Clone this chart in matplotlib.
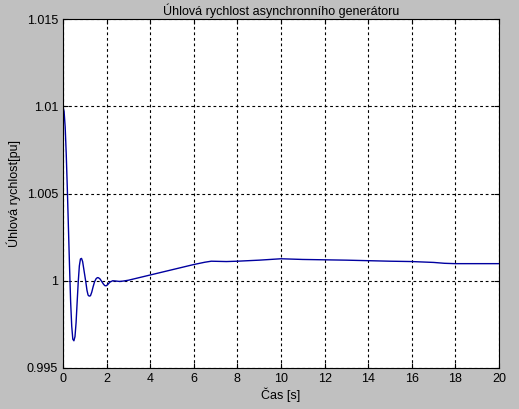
import matplotlib
matplotlib.use("Agg")
import matplotlib.pyplot as plt

plt.rcParams['font.family'] = ['Liberation Sans', 'DejaVu Sans']

# values
cas = [0, 0.05, 0.1, 0.15, 0.2, 0.25, 0.3, 0.35, 0.4, 0.45, 0.5, 0.55, 0.6, 0.65, 0.7,
       0.75, 0.8, 0.85, 0.9, 0.95, 1.0, 1.05, 1.1, 1.15, 1.2, 1.26, 1.32, 1.38, 1.45,
       1.52, 1.58, 1.63, 1.7, 1.78, 1.86, 1.92, 1.98, 2.05, 2.15, 2.28, 2.45, 2.6,
       2.75, 3.0, 4.0, 5.0, 6.0, 6.5, 6.8, 7.5, 8.0, 9.0, 10.0, 11.0, 12.0, 13.0,
       14.0, 15.0, 16.0, 17.0, 17.5, 18.0, 19.0, 20.0]
rychlost = [1.0100, 1.0097, 1.0088, 1.0072, 1.0052, 1.0030, 1.0008, 0.9988, 0.9974,
            0.99665, 0.99656, 0.9968, 0.9976, 0.9988, 0.99995, 1.00085, 1.00125,
            1.00128, 1.0011, 1.0007, 1.0003, 0.9999, 0.99945, 0.99918, 0.99912,
            0.99914, 0.99935, 0.99965, 0.99995, 1.00012, 1.00018, 1.00017, 1.0001,
            0.99995, 0.9998, 0.99972, 0.99971, 0.99978, 0.99992, 1.0000, 0.99998,
            0.99996, 0.99998, 1.00003, 1.00033, 1.00063, 1.00093, 1.00106, 1.00112,
            1.00110, 1.00112, 1.00118, 1.00126, 1.00122, 1.00120, 1.00118, 1.00115,
            1.00112, 1.00110, 1.00105, 1.00100, 1.00098, 1.00098, 1.00098]

fig = plt.figure(figsize=(5.19, 4.09), dpi=100, facecolor="#c0c0c0")
ax = fig.add_axes([63 / 519, 41 / 409, 436 / 519, 349 / 409])
ax.plot(cas, rychlost, color="#0000a0", lw=1)
ax.set_xlim(0, 20)
ax.set_ylim(0.995, 1.015)
ax.set_xticks(range(0, 21, 2))
ax.set_yticks([0.995, 1.0, 1.005, 1.01, 1.015])
ax.set_yticklabels(["0.995", "1", "1.005", "1.01", "1.015"])
ax.grid(True, color="black", linestyle=(0, (2.5, 2.5)), lw=0.8)
ax.tick_params(labelsize=9, direction="in", top=True, right=True)
ax.set_title("Úhlová rychlost asynchronního generátoru", fontsize=9, pad=3)
ax.set_xlabel("Čas [s]", fontsize=9, labelpad=2)
ax.set_ylabel("Úhlová rychlost[pu]", fontsize=9, labelpad=4)
fig.savefig("out.png", dpi=100, facecolor=fig.get_facecolor())
